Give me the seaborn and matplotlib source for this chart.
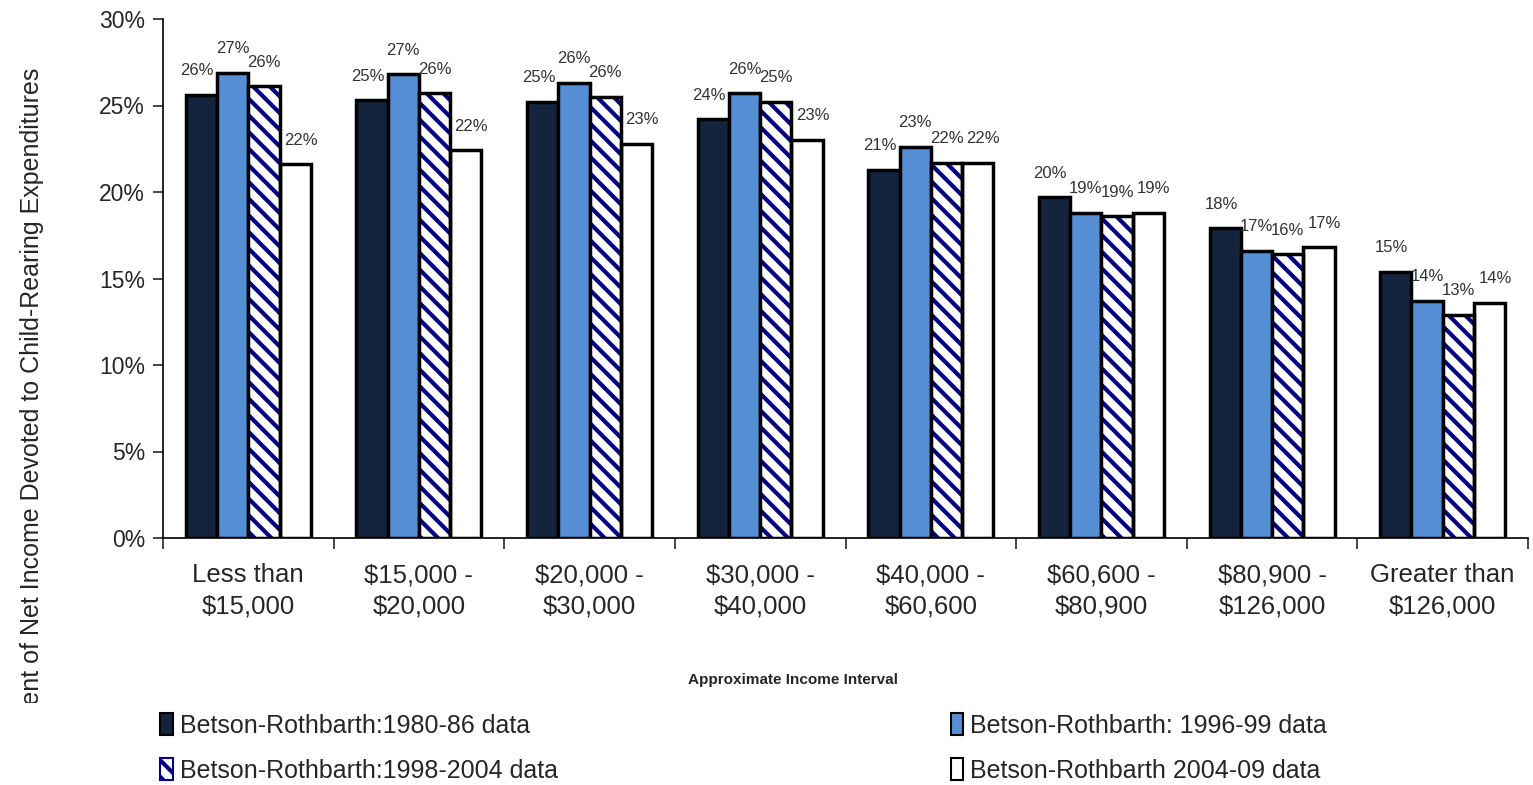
"""Share of net income devoted to child-rearing expenditures by income interval."""

import matplotlib.pyplot as plt
import numpy as np
import pandas as pd
import seaborn as sns
from matplotlib.patches import Patch, Rectangle
from matplotlib.transforms import Bbox
from matplotlib.ticker import FixedLocator, PercentFormatter

intervals = [
    "Less than\n$15,000",
    "$15,000 -\n$20,000",
    "$20,000 -\n$30,000",
    "$30,000 -\n$40,000",
    "$40,000 -\n$60,600",
    "$60,600 -\n$80,900",
    "$80,900 -\n$126,000",
    "Greater than\n$126,000",
]
series = [
    "Betson-Rothbarth:1980-86 data",
    "Betson-Rothbarth: 1996-99 data",
    "Betson-Rothbarth:1998-2004 data",
    "Betson-Rothbarth 2004-09 data",
]
br_1980_86 = [25.6, 25.3, 25.2, 24.2, 21.3, 19.7, 17.9, 15.4]
br_1996_99 = [26.9, 26.8, 26.3, 25.7, 22.6, 18.8, 16.6, 13.7]
br_1998_2004 = [26.1, 25.7, 25.5, 25.2, 21.7, 18.6, 16.4, 12.9]
br_2004_09 = [21.6, 22.4, 22.8, 23.0, 21.7, 18.8, 16.8, 13.6]

colors = ["#14243f", "#558ed5", "#ffffff", "#ffffff"]
hatches = [None, None, "\\\\", None]
hatch_color = "#000080"
# small sideways nudges of the value labels (points), one per series
label_dx = [-3, 0, 0, 4]

df = pd.DataFrame(
    {
        "interval": np.repeat(intervals, 4),
        "series": series * len(intervals),
        "value": np.column_stack([br_1980_86, br_1996_99, br_1998_2004, br_2004_09]).ravel(),
    }
)

sns.set_theme(style="white")
plt.rcParams["font.family"] = ["Liberation Sans", "DejaVu Sans"]
plt.rcParams["hatch.linewidth"] = 3.0

W, H = 1533, 785
fig = plt.figure(figsize=(W / 100, H / 100), dpi=100)
ax = fig.add_axes([163 / W, 1 - 538 / H, (1528 - 163) / W, (538 - 19) / H])

sns.barplot(
    data=df, x="interval", y="value", hue="series", hue_order=series,
    palette=colors, width=0.733, gap=0, edgecolor="black", linewidth=2.5,
    ax=ax, legend=False, saturation=1,
)

for cont, hatch, dx in zip(ax.containers, hatches, label_dx):
    for bar, v in zip(cont, cont.datavalues):
        if hatch:
            # hatch drawn in navy, outline redrawn in black on top
            bar.set_hatch(hatch)
            bar.set_edgecolor(hatch_color)
            bar.set_linewidth(0)
            ax.add_patch(Rectangle(bar.get_xy(), bar.get_width(), bar.get_height(),
                                   fill=False, edgecolor="black", linewidth=2.5, zorder=bar.get_zorder() + 0.1))
        ax.annotate(f"{round(v):.0f}%", (bar.get_x() + bar.get_width() / 2, v),
                    xytext=(dx, 12), textcoords="offset points", ha="center", va="bottom",
                    fontsize=12, color="#333333")

ax.set_ylim(0, 30)
ax.set_xlim(-0.5, len(intervals) - 0.5)
ax.yaxis.set_major_locator(FixedLocator([0, 5, 10, 15, 20, 25, 30]))
ax.yaxis.set_major_formatter(PercentFormatter(decimals=0))
ax.tick_params(axis="y", labelsize=16.5, length=7, width=1.2, direction="out", left=True, pad=6)
ax.tick_params(axis="x", which="major", labelsize=18.5, length=0, pad=18)
ax.xaxis.set_minor_locator(FixedLocator(np.arange(-0.5, len(intervals), 1.0)))
ax.tick_params(axis="x", which="minor", length=8, width=1.2, direction="out", bottom=True)
for lab in ax.get_xticklabels():
    lab.set_linespacing(1.4)

sns.despine(ax=ax, top=True, right=True)
for side in ("left", "bottom"):
    ax.spines[side].set_linewidth(1.2)
    ax.spines[side].set_color("black")

ax.set_xlabel("")
ax.set_ylabel("")
fig.text(793 / W, 1 - 680 / H, "Approximate Income Interval", ha="center", va="center",
         fontsize=11, fontweight="bold", family=["Liberation Sans Narrow", "Liberation Sans"])
ylab = fig.text(32 / W, 1 - 68 / H, "Percent of Net Income Devoted to Child-Rearing Expenditures",
                rotation=90, ha="center", va="top", fontsize=18)
# the original label is cut off at its start
ylab.set_clip_box(Bbox([[0, H - 703], [120, H]]))
ylab.set_clip_on(True)

handles = [
    Patch(facecolor=colors[i], edgecolor=hatch_color if hatches[i] else "black",
          linewidth=1.5, hatch=hatches[i] or "")
    for i in range(4)
]
order = [0, 2, 1, 3]
fig.legend(
    [handles[i] for i in order], [series[i] for i in order],
    ncol=2, loc="upper left", bbox_to_anchor=(150 / W, 1 - 703 / H),
    frameon=False, fontsize=18, handlelength=0.5, handleheight=1.0,
    handletextpad=0.3, columnspacing=15.7, labelspacing=0.8, borderaxespad=0,
)

fig.savefig("out.png", dpi=100)
